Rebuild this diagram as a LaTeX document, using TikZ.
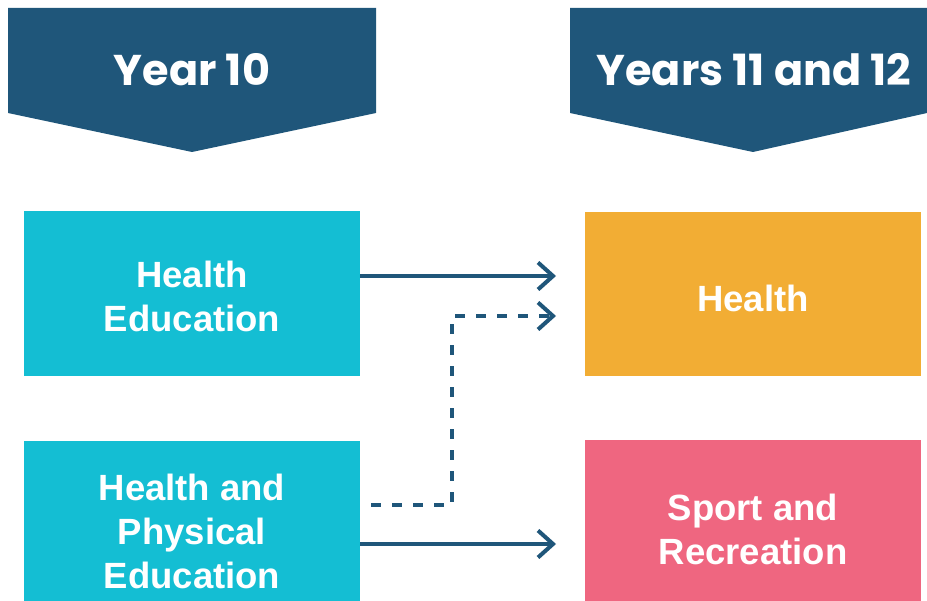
\documentclass[tikz,border=0pt]{standalone}
\usepackage{fontspec}
\setmainfont{Liberation Sans}
\newfontfamily\headfont{Poppins}
\usetikzlibrary{positioning, arrows.meta}
\definecolor{navy}{RGB}{31,86,122}
\definecolor{teal}{RGB}{20,190,211}
\definecolor{amber}{RGB}{242,173,52}
\definecolor{rose}{RGB}{239,102,128}
\tikzset{
x=1pt, y=-1pt, % one unit is one pixel of the layout
box/.style={minimum width=336pt, inner sep=0pt}, % sets the properties for each course box
boxtext/.style={align=center, text=white, font=\fontsize{36.5}{44}\selectfont\bfseries}, % the course names
head/.style={text=white, font=\headfont\fontsize{43}{50}\selectfont\bfseries}, % the year titles
link/.style={navy, line width=4pt, -{Straight Barb[length=15pt,width=27pt,line width=4pt]}}, % solid pathway
altlink/.style={link, dash pattern=on 10pt off 11pt}, % dashed pathway
}
\begin{document}
\begin{tikzpicture}
    \useasboundingbox (0,0) rectangle (927,601);
    \fill[navy] (8,8) -- (376,8) -- (376,113) -- (192,152) -- (8,113) -- cycle;
    \fill[navy] (570,8) -- (927,8) -- (927,113) -- (753,152) -- (570,113) -- cycle;
    \node[head] (Y10) at (192,70) {Year 10};
    \node[head] (Y1112) at (754,70) {Years 11 and 12};

    \node[box, fill=teal, minimum height=165pt] (HE) at (192,293.5) {};
    \node[box, fill=teal, minimum height=160pt] (HPE) at (192,521) {};
    \node[box, fill=amber, minimum height=164pt] (H) at (753,294) {};
    \node[box, fill=rose, minimum height=161pt] (SR) at (753,520.5) {};
    \node[boxtext] (HEt) at ([yshift=-3pt]HE) {Health\\Education};
    \node[boxtext] (HPEt) at ([yshift=-10pt]HPE) {Health and\\Physical\\Education};
    \node[boxtext] (Ht) at ([yshift=-4pt]H) {Health};
    \node[boxtext] (SRt) at ([yshift=-9pt]SR) {Sport and\\Recreation};

    \coordinate (in1) at (556,276);
    \coordinate (in2) at (556,316);
    \coordinate (in3) at (556,544);
    \coordinate (out2) at (371,505);
    \coordinate (bend) at (452,316);

  \draw[link] (HE.east |- in1) -- (in1);
  \draw[altlink] (out2) -| (bend) -- (in2);
  \draw[link] (HPE.east |- in3) -- (in3);
\end{tikzpicture}
\end{document}
